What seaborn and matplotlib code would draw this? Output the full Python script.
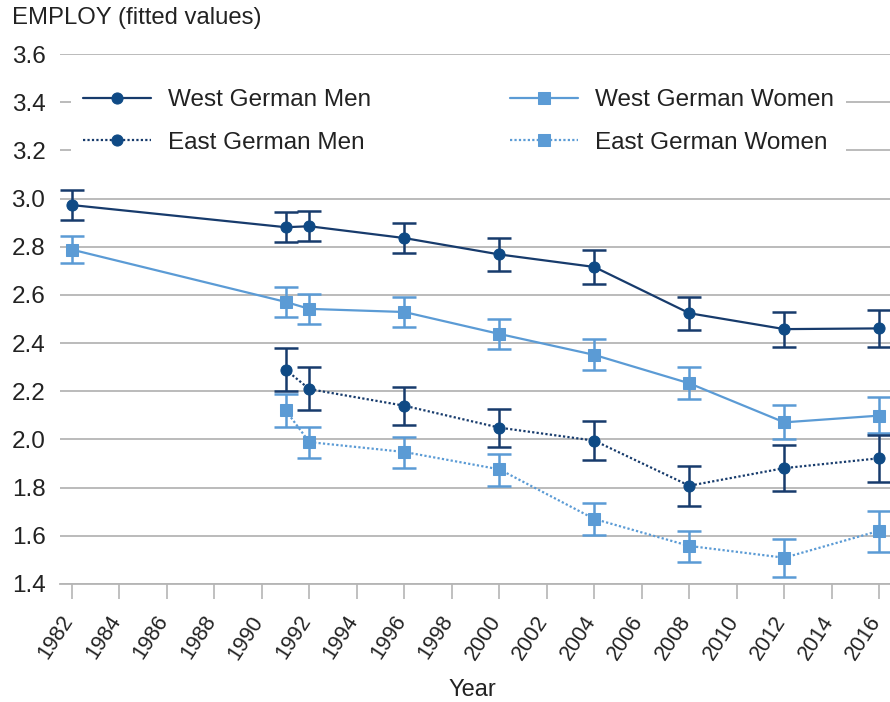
import numpy as np
import pandas as pd
import matplotlib
matplotlib.use("Agg")
import matplotlib.pyplot as plt
import matplotlib.transforms as mtransforms
import seaborn as sns

# data
years_west = [1982, 1991, 1992, 1996, 2000, 2004, 2008, 2012, 2016]
years_east = [1991, 1992, 1996, 2000, 2004, 2008, 2012, 2016]

west_men = [2.973, 2.881, 2.885, 2.836, 2.768, 2.716, 2.524, 2.458, 2.461]
west_men_lo = [2.911, 2.818, 2.824, 2.773, 2.698, 2.645, 2.454, 2.385, 2.385]
west_men_hi = [3.035, 2.943, 2.947, 2.898, 2.835, 2.786, 2.593, 2.530, 2.537]

west_women = [2.788, 2.571, 2.542, 2.529, 2.438, 2.351, 2.233, 2.071, 2.099]
west_women_lo = [2.734, 2.507, 2.479, 2.465, 2.377, 2.288, 2.167, 2.002, 2.025]
west_women_hi = [2.844, 2.631, 2.604, 2.590, 2.501, 2.416, 2.299, 2.143, 2.175]

east_men = [2.290, 2.209, 2.140, 2.049, 1.995, 1.808, 1.881, 1.922]
east_men_lo = [2.202, 2.122, 2.061, 1.970, 1.915, 1.725, 1.786, 1.823]
east_men_hi = [2.380, 2.299, 2.218, 2.128, 2.077, 1.890, 1.977, 2.018]

east_women = [2.121, 1.989, 1.948, 1.876, 1.670, 1.558, 1.509, 1.621]
east_women_lo = [2.053, 1.925, 1.880, 1.808, 1.603, 1.491, 1.430, 1.534]
east_women_hi = [2.187, 2.050, 2.012, 1.940, 1.735, 1.621, 1.587, 1.703]

dark = "#173b6c"
dark_marker = "#0f4a85"
light = "#5b9bd5"
grid_c = "#b5b5b5"
text_c = "#222222"

sns.set_theme(style="white")
plt.rcParams["font.family"] = ["Liberation Sans", "DejaVu Sans"]

fig = plt.figure(figsize=(8.9, 7.02), dpi=100)
ax = fig.add_axes([60 / 890, 118 / 702, 830 / 890, 530 / 702])

series = [
    ("West German Men", years_west, west_men, west_men_lo, west_men_hi, dark, dark_marker, "o", "-", 8),
    ("West German Women", years_west, west_women, west_women_lo, west_women_hi, light, light, "s", "-", 8.5),
    ("East German Men", years_east, east_men, east_men_lo, east_men_hi, dark, dark_marker, "o", (0, (1, 1)), 8),
    ("East German Women", years_east, east_women, east_women_lo, east_women_hi, light, light, "s", (0, (1, 1)), 8.5),
]

handles = {}
for name, yrs, vals, lo, hi, col, mcol, mk, ls, ms in series:
    df = pd.DataFrame({"Year": yrs, "value": vals, "lo": lo, "hi": hi})
    ax.errorbar(df["Year"], df["value"],
                yerr=[df["value"] - df["lo"], df["hi"] - df["value"]],
                fmt="none", ecolor=col, elinewidth=1.8, capsize=8.6,
                capthick=1.8, zorder=3)
    sns.lineplot(data=df, x="Year", y="value", ax=ax, color=col,
                 linestyle=ls, linewidth=1.6, marker=mk, markersize=ms,
                 markerfacecolor=mcol, markeredgecolor=mcol, zorder=4,
                 label=name)
    handles[name] = ax.get_lines()[-1]

ax.set_xlim(1981.5, 2016.45)
ax.set_ylim(1.4, 3.6)
yt = np.arange(1.4, 3.61, 0.2)
ax.set_yticks(yt)
ax.set_yticklabels([f"{v:.1f}" for v in yt])
ax.set_xticks(range(1982, 2017, 2))
ax.grid(axis="y", color=grid_c, linewidth=1.3, zorder=0)
ax.set_axisbelow(True)
for s in ["top", "right", "left"]:
    ax.spines[s].set_visible(False)
ax.spines["bottom"].set_color(grid_c)
ax.spines["bottom"].set_linewidth(1.3)
ax.tick_params(axis="y", length=0, pad=10.5, labelsize=17.5, labelcolor=text_c)
ax.tick_params(axis="x", bottom=True, length=11, width=1.2, color=grid_c,
               pad=9, labelsize=15.5, labelcolor=text_c)
shift = mtransforms.ScaledTranslation(6 / 100, 0, fig.dpi_scale_trans)
for lab in ax.get_xticklabels():
    lab.set_rotation(57)
    lab.set_ha("right")
    lab.set_transform(lab.get_transform() + shift)

ax.set_ylabel("")
ax.set_xlabel("Year", fontsize=17, color=text_c)
ax.xaxis.set_label_coords(0.497, -0.2)
ax.xaxis.label.set_va("center")

order = ["West German Men", "East German Men", "West German Women", "East German Women"]
leg = ax.legend([handles[n] for n in order], order, ncol=2, loc="upper left",
                bbox_to_anchor=(0.0133, 0.956), borderaxespad=0, fontsize=17.5,
                frameon=True, facecolor="white", edgecolor="none", framealpha=1,
                handlelength=2.8, handletextpad=0.7, columnspacing=5.7,
                labelspacing=0.84, borderpad=0.5)
for t in leg.get_texts():
    t.set_color(text_c)

fig.text(12 / 890, 1 - 18 / 702, "EMPLOY (fitted values)", fontsize=17.2,
         color=text_c, ha="left", va="center")

fig.savefig("out.png", dpi=100)
